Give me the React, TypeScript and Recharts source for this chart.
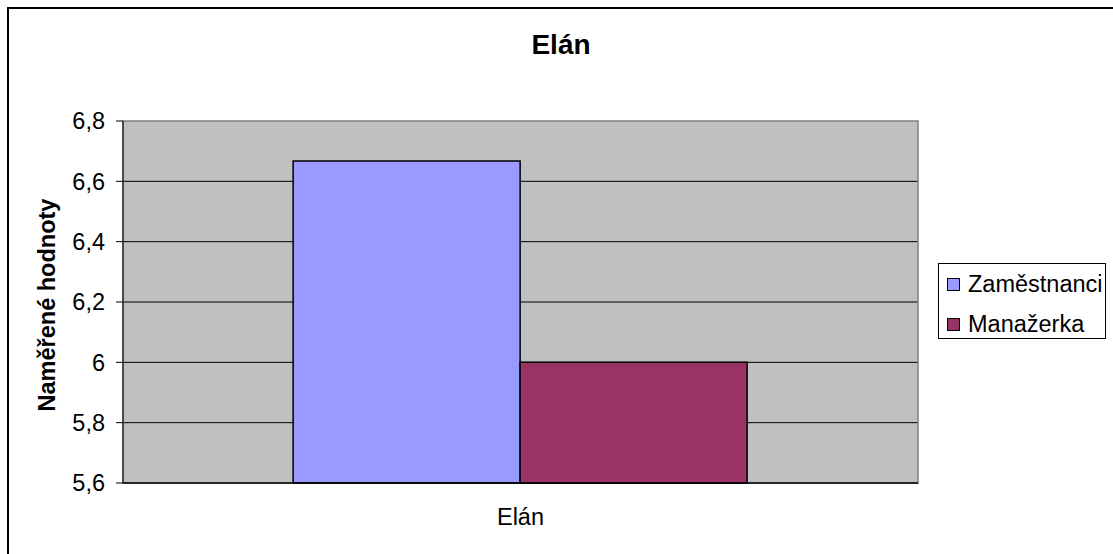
import React from 'react';
import { BarChart, Bar, XAxis, YAxis, CartesianGrid, ReferenceArea, Legend, Label } from 'recharts';

const categories = ['Elán'];
const zamestnanci = [6.667];
const manazerka = [6.0];
const yTicks = [5.6, 5.8, 6, 6.2, 6.4, 6.6, 6.8];
const gridValues = [5.8, 6, 6.2, 6.4, 6.6];
const seriesNames = ['Zaměstnanci', 'Manažerka'];
const seriesColors = ['#9999FF', '#993366'];
const titleText = 'Elán';
const yAxisTitle = 'Naměřené hodnoty';

const data = categories.map((c, i) => ({ name: c, z: zamestnanci[i], m: manazerka[i] }));

const FONT = '"Liberation Sans", Arial, sans-serif';
const FS = 23.5;

const fmt = (v: number) => String(v).replace('.', ',');

const renderLegend = (props: any) => {
  const payload = [...(props.payload || [])].sort(
    (a: any, b: any) => seriesNames.indexOf(a.value) - seriesNames.indexOf(b.value)
  );
  return (
    <div
      style={{
        position: 'relative',
        width: 168,
        height: 76,
        boxSizing: 'border-box',
        border: '1px solid #000',
        background: '#fff',
        fontFamily: FONT,
        fontSize: FS,
        color: '#000',
      }}
    >
      {payload.map((entry: any, i: number) => (
        <div
          key={i}
          style={{
            position: 'absolute',
            left: 0,
            top: i * 40,
            height: 40,
            display: 'flex',
            alignItems: 'center',
            whiteSpace: 'nowrap',
          }}
        >
          <span
            style={{
              display: 'inline-block',
              width: 13,
              height: 13,
              boxSizing: 'border-box',
              border: '1px solid #000',
              background: entry.color,
              marginLeft: 8,
              marginRight: 8,
            }}
          />
          <span>{entry.value}</span>
        </div>
      ))}
    </div>
  );
};

export default function App() {
  return (
    <div style={{ position: 'absolute', left: 0, top: 0, width: 1113, height: 554, background: '#fff', overflow: 'hidden' }}>
      <div
        style={{
          position: 'absolute',
          left: 7,
          top: 7,
          width: 1106,
          height: 547,
          borderTop: '2px solid #000',
          borderLeft: '2px solid #000',
        }}
      />
      <div
        style={{
          position: 'absolute',
          left: 0,
          top: 31,
          width: 1122,
          textAlign: 'center',
          fontFamily: FONT,
          fontWeight: 'bold',
          fontSize: 28,
          lineHeight: '28px',
          color: '#000',
        }}
      >
        {titleText}
      </div>
      <BarChart
        width={1113}
        height={554}
        data={data}
        margin={{ top: 121, right: 195, bottom: 31, left: 0 }}
        barCategoryGap="21.4%"
        barGap={0}
        style={{ position: 'absolute', left: 0, top: 0, fontFamily: FONT }}
      >
        <CartesianGrid
          xAxisId="frame"
          vertical={false}
          horizontalValues={gridValues}
          fill="#C0C0C0"
          fillOpacity={1}
          stroke="#000"
          strokeWidth={1}
        />
        <ReferenceArea
          xAxisId="frame"
          y1={5.6}
          y2={6.8}
          fill="none"
          fillOpacity={0}
          stroke="#808080"
          strokeWidth={1.5}
        />
        <XAxis
          xAxisId="frame"
          type="number"
          domain={[0, 1]}
          ticks={[0, 1]}
          tick={false}
          tickSize={7}
          axisLine={false}
          tickLine={{ stroke: '#000' }}
          height={0}
        />
        <XAxis
          xAxisId="cat"
          dataKey="name"
          type="category"
          tickLine={false}
          tickSize={0}
          tickMargin={25}
          axisLine={{ stroke: '#000', strokeWidth: 1.5 }}
          tick={{ fill: '#000', fontSize: FS, fontFamily: FONT }}
          height={40}
        />
        <YAxis
          domain={[5.6, 6.8]}
          ticks={yTicks}
          tickFormatter={fmt}
          width={123}
          tickSize={7}
          tickMargin={11}
          interval={0}
          axisLine={{ stroke: '#000' }}
          tickLine={{ stroke: '#000' }}
          tick={{ fill: '#000', fontSize: FS, fontFamily: FONT }}
        >
          <Label
            content={(props: any) => {
              const vb = props.viewBox || { x: 0, y: 0, width: 0, height: 0 };
              const cx = vb.x + 47;
              const cy = vb.y + vb.height / 2 + 3;
              return (
                <text
                  x={cx}
                  y={cy}
                  transform={`rotate(-90, ${cx}, ${cy})`}
                  textAnchor="middle"
                  dominantBaseline="central"
                  fontFamily={FONT}
                  fontWeight="bold"
                  fontSize={FS}
                  fill="#000"
                >
                  {yAxisTitle}
                </text>
              );
            }}
          />
        </YAxis>
        <Legend
          layout="vertical"
          align="center"
          verticalAlign="middle"
          content={renderLegend}
          wrapperStyle={{ left: 938, top: 263, width: 168, height: 76 }}
        />
        <Bar
          xAxisId="cat"
          dataKey="z"
          name={seriesNames[0]}
          fill={seriesColors[0]}
          stroke="#000"
          strokeWidth={1.5}
          isAnimationActive={false}
        />
        <Bar
          xAxisId="cat"
          dataKey="m"
          name={seriesNames[1]}
          fill={seriesColors[1]}
          stroke="#000"
          strokeWidth={1.5}
          isAnimationActive={false}
        />
      </BarChart>
    </div>
  );
}
